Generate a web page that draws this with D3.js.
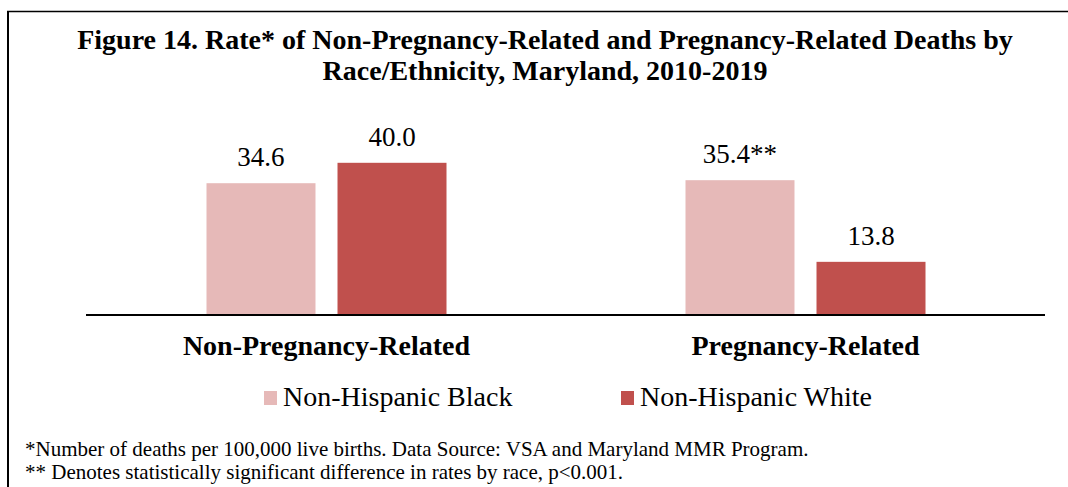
<!DOCTYPE html>
<html>
<head>
<meta charset="utf-8">
<script src="https://cdn.jsdelivr.net/npm/d3@7"></script>
<style>
  html, body { margin: 0; padding: 0; background: #fff; }
  svg { display: block; }
  text { font-family: "Liberation Serif", "Times New Roman", serif; fill: #000; }
</style>
</head>
<body>
<svg id="chart" width="1068" height="487"></svg>
<script>
// Rates per 100,000 live births, Maryland 2010-2019
const categories = ["Non-Pregnancy-Related", "Pregnancy-Related"];
const seriesNames = ["Non-Hispanic Black", "Non-Hispanic White"];
const blackRates = [34.6, 35.4];
const whiteRates = [40.0, 13.8];
// significance markers appended to the value labels
const blackMarks = ["", "**"];
const whiteMarks = ["", ""];
const seriesColors = ["#E6B9B8", "#C0504D"];

const titleLines = [
  "Figure 14. Rate* of Non-Pregnancy-Related and Pregnancy-Related Deaths by",
  "Race/Ethnicity, Maryland, 2010-2019"
];
const footnotes = [
  "*Number of deaths per 100,000 live births. Data Source: VSA and Maryland MMR Program.",
  "** Denotes statistically significant difference in rates by race, p<0.001."
];

const rows = categories.map((c, i) => ({
  category: c,
  values: [
    { series: seriesNames[0], value: blackRates[i], mark: blackMarks[i] },
    { series: seriesNames[1], value: whiteRates[i], mark: whiteMarks[i] }
  ]
}));

const svg = d3.select("#chart");

// frame: left and top rules
svg.append("path")
  .attr("d", "M8,487 L8,11.5")
  .attr("stroke", "#000").attr("stroke-width", 2).attr("fill", "none");
svg.append("path")
  .attr("d", "M7,11.5 L1068,11.5")
  .attr("stroke", "#000").attr("stroke-width", 1.5).attr("fill", "none");

// title
svg.append("g").selectAll("text")
  .data(titleLines)
  .join("text")
  .attr("x", 545)
  .attr("y", (d, i) => 49 + i * 31)
  .attr("text-anchor", "middle")
  .attr("font-weight", "bold")
  .attr("font-size", 28)
  .text(d => d);

const baseY = 314;
const y = d3.scaleLinear().domain([0, 50]).range([baseY, baseY - 50 * 3.78]);
const x0 = d3.scaleBand().domain(categories).range([87, 1045]).padding(0);
const x1 = d3.scaleBand().domain(seriesNames)
  .range([119.5, 359.5]).paddingInner(0.168).paddingOuter(0);
const color = d3.scaleOrdinal().domain(seriesNames).range(seriesColors);

const groups = svg.append("g").selectAll("g")
  .data(rows)
  .join("g")
  .attr("transform", d => `translate(${x0(d.category)},0)`);

groups.selectAll("rect")
  .data(d => d.values)
  .join("rect")
  .attr("x", d => x1(d.series))
  .attr("y", d => y(d.value))
  .attr("width", x1.bandwidth())
  .attr("height", d => y(0) - y(d.value))
  .attr("fill", d => color(d.series));

groups.selectAll("text.value")
  .data(d => d.values)
  .join("text")
  .attr("class", "value")
  .attr("x", d => x1(d.series) + x1.bandwidth() / 2)
  .attr("y", d => y(d.value) - 17)
  .attr("text-anchor", "middle")
  .attr("font-size", 27)
  .text(d => d.value.toFixed(1) + d.mark);

// category axis
const axis = svg.append("g")
  .attr("transform", `translate(0,${baseY + 1})`)
  .call(d3.axisBottom(x0).tickSize(0).tickSizeOuter(0).tickPadding(0));
axis.select(".domain")
  .attr("stroke", "#000").attr("stroke-width", 2)
  .attr("d", "M86,0H1045");
axis.selectAll(".tick text")
  .attr("dy", null)
  .attr("y", 40)
  .attr("font-family", "Liberation Serif, Times New Roman, serif")
  .attr("font-weight", "bold")
  .attr("font-size", 28)
  .attr("fill", "#000");

// legend
const legendItems = [
  { name: seriesNames[0], x: 264 },
  { name: seriesNames[1], x: 621 }
];
const legend = svg.append("g").selectAll("g")
  .data(legendItems)
  .join("g")
  .attr("transform", d => `translate(${d.x},0)`);
legend.append("rect")
  .attr("x", 0).attr("y", 391)
  .attr("width", 13).attr("height", 14)
  .attr("fill", d => color(d.name));
legend.append("text")
  .attr("x", 19).attr("y", 406)
  .attr("font-size", 28)
  .text(d => d.name);

// footnotes
svg.append("g").selectAll("text")
  .data(footnotes)
  .join("text")
  .attr("x", 25)
  .attr("y", (d, i) => 456 + i * 23)
  .attr("font-size", 21)
  .text(d => d);
</script>
</body>
</html>
